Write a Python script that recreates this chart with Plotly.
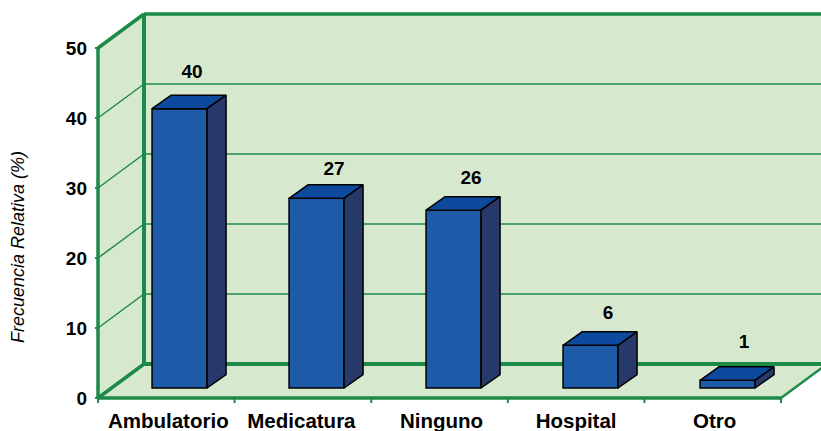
import plotly.graph_objects as go

categories = ["Ambulatorio", "Medicatura", "Ninguno", "Hospital", "Otro"]
values = [39.9, 27.1, 25.4, 6.1, 1.1]
value_labels = ["40", "27", "26", "6", "1"]
y_ticks = [0, 10, 20, 30, 40, 50]

PX_X, PX_Y = 136.6, 7.0          # pixels per category / per unit
WALL_DX, WALL_DY = 46 / PX_X, 34 / PX_Y
BAR_DX, BAR_DY = 19 / PX_X, 13.5 / PX_Y
BAR_W = 55 / PX_X
BAR_SHIFT = 0.597
BAR_STEP = 137 / PX_X
BAR_BASE = 10 / PX_Y
LABEL_GAP = [35 / PX_Y, 28 / PX_Y, 31 / PX_Y, 31 / PX_Y, 37 / PX_Y]
LABEL_DX = [12.5 / PX_X, 17.5 / PX_X, 17.5 / PX_X, 17.5 / PX_X, 16.5 / PX_X]
CAT_SHIFT = [2 / PX_X, -1.5 / PX_X, 2 / PX_X, 0, 2 / PX_X]
N = len(categories)
YMAX = y_ticks[-1]
bar_x = [i * BAR_STEP + BAR_SHIFT for i in range(N)]

WALL = "#D6E9CF"
GREEN = "#1E8A48"
FRONT = "#1D5BA8"
TOP = "#0D4A9E"
SIDE = "#27386B"
FONT = "Liberation Sans"

fig = go.Figure()
shapes = []


def poly(pts):
    return "M " + " L ".join(f"{x},{y}" for x, y in pts) + " Z"


def seg(x0, y0, x1, y1, w):
    shapes.append(dict(type="line", xref="x", yref="y", x0=x0, y0=y0, x1=x1, y1=y1,
                       line=dict(color=GREEN, width=w), layer="below"))


far = N + WALL_DX + 1
shapes.append(dict(type="path", xref="x", yref="y", layer="below", line=dict(width=0), fillcolor=WALL,
                   path=poly([(0, 0), (N, 0), (N + WALL_DX, WALL_DY), (far, WALL_DY), (far, YMAX + WALL_DY),
                              (WALL_DX, YMAX + WALL_DY), (0, YMAX)])))
for t in y_ticks[1:-1]:
    seg(0, t, WALL_DX, t + WALL_DY, 1.5)
    seg(WALL_DX, t + WALL_DY, far, t + WALL_DY, 1.5)

seg(0, 0, 0, YMAX, 3.5)
seg(WALL_DX, WALL_DY, WALL_DX, YMAX + WALL_DY, 4)
seg(0, YMAX, WALL_DX, YMAX + WALL_DY, 3.5)
seg(WALL_DX, YMAX + WALL_DY, far, YMAX + WALL_DY, 3.5)
seg(0, 0, WALL_DX, WALL_DY, 3.5)
seg(WALL_DX, WALL_DY, far, WALL_DY, 4)
seg(0, 0, N, 0, 3.5)
seg(N, 0, N + WALL_DX, WALL_DY, 2.5)
for t in y_ticks:
    seg(-3 / PX_X, t, 0, t, 2)
for i in range(N + 1):
    seg(i, 0, i, -5 / PX_Y, 2)

fig.update_layout(shapes=shapes)

fig.add_trace(go.Bar(
    x=bar_x, y=values, base=[BAR_BASE] * N, width=BAR_W,
    marker=dict(color=FRONT, line=dict(color="black", width=1.5)), hoverinfo="skip",
))

for i, v in enumerate(values):
    x0 = bar_x[i] - BAR_W / 2
    x1 = x0 + BAR_W
    y0 = BAR_BASE
    y1 = BAR_BASE + v
    fig.add_trace(go.Scatter(
        x=[x0, x1, x1 + BAR_DX, x0 + BAR_DX, x0], y=[y1, y1, y1 + BAR_DY, y1 + BAR_DY, y1],
        mode="lines", fill="toself", fillcolor=TOP, line=dict(color="black", width=1.5), hoverinfo="skip",
    ))
    fig.add_trace(go.Scatter(
        x=[x1, x1 + BAR_DX, x1 + BAR_DX, x1, x1], y=[y0, y0 + BAR_DY, y1 + BAR_DY, y1, y0],
        mode="lines", fill="toself", fillcolor=SIDE, line=dict(color="black", width=1.5), hoverinfo="skip",
    ))

fig.add_trace(go.Scatter(
    x=[bx + d for bx, d in zip(bar_x, LABEL_DX)],
    y=[v + BAR_BASE + g for v, g in zip(values, LABEL_GAP)],
    mode="text", text=value_labels, textposition="middle center",
    textfont=dict(family=FONT, size=19, color="black", weight="bold"), hoverinfo="skip",
))

fig.update_layout(
    width=821, height=431, showlegend=False,
    paper_bgcolor="white", plot_bgcolor="white",
    margin=dict(l=92, r=0, t=0, b=25, pad=0),
    xaxis=dict(range=[-6 / PX_X, 723 / PX_X], tickmode="array",
               tickvals=[i + 0.5 + s for i, s in enumerate(CAT_SHIFT)],
               ticktext=categories, showgrid=False, zeroline=False, showline=False, ticks="", ticklen=0,
               tickfont=dict(family=FONT, size=20.5, color="black", weight="bold")),
    yaxis=dict(range=[-8 / PX_Y, 398 / PX_Y], tickmode="array", tickvals=y_ticks, showgrid=False,
               zeroline=False, showline=False, ticks="", ticklen=0, ticklabelstandoff=4,
               tickfont=dict(family=FONT, size=19, color="black", weight="bold")),
    annotations=[dict(text="<i>Frecuencia Relativa (%)</i>", xref="paper", yref="paper", showarrow=False,
                      x=-92 / 729 + 18 / 729, y=1 - 247 / 406, xanchor="center", yanchor="middle", textangle=-90,
                      font=dict(family=FONT, size=18, color="black"))],
)

fig.write_html("out.html", config={"displayModeBar": False},
               post_script="document.body.style.margin='0';document.body.style.overflow='hidden';")
